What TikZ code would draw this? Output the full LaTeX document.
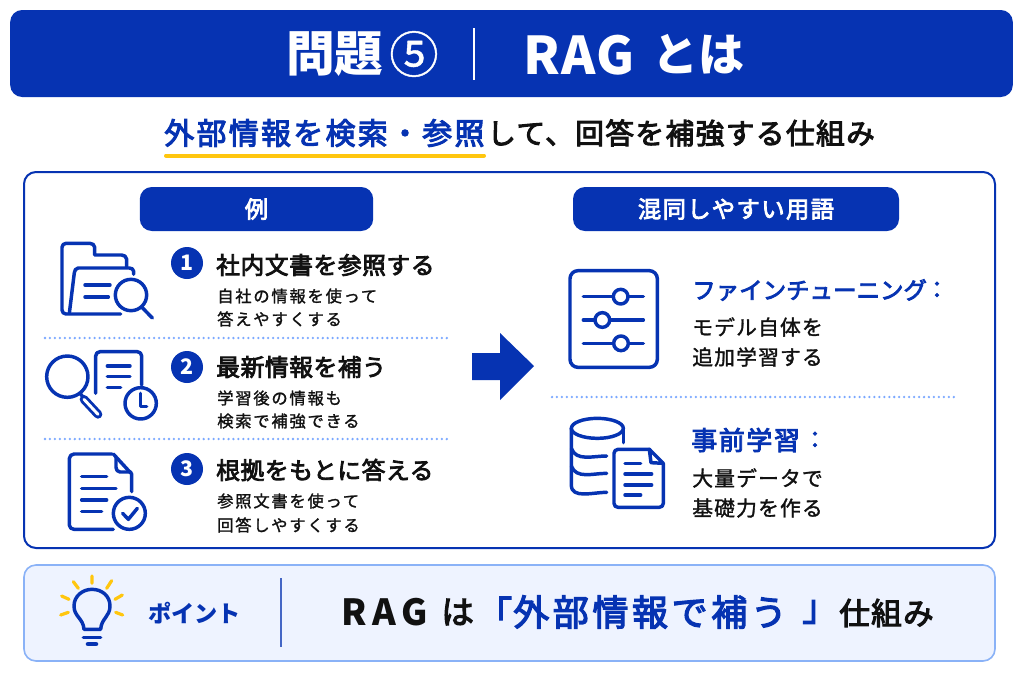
\documentclass[tikz,border=0pt]{standalone}
\usepackage{fontspec}
\setmainfont{Noto Sans CJK JP}
\newcommand{\fs}[1]{\fontsize{#1}{#1}\selectfont}
\newcommand{\med}[1]{\addfontfeature{FakeBold=3.4,LetterSpace=#1}}
\newcommand{\lght}[1]{\addfontfeature{FakeBold=1.4,LetterSpace=#1}}
\definecolor{navy}{HTML}{0633B2}
\definecolor{ink}{HTML}{111111}
\definecolor{dotblue}{HTML}{7AA8FF}
\definecolor{amber}{HTML}{FFC60E}
\definecolor{ptfill}{HTML}{EEF3FF}
\definecolor{ptline}{HTML}{8AB2F7}
\tikzset{
 icon/.style={draw=navy,line width=2.6pt,line cap=round,line join=round},
 ray/.style={draw=amber,line width=2.4pt,line cap=round},
 dotline/.style={draw=dotblue,line width=1.9pt,line cap=round,dash pattern=on 0pt off 3.72pt},
 pill/.style={draw=none,fill=navy,rounded corners=9pt},
 txt/.style={anchor=west,inner sep=0pt,text=ink},
 head/.style={txt,font=\fs{17.8}\med{2.5}},
 sub/.style={txt,font=\fs{12.2}\lght{11}},
 badge/.style={circle,fill=navy,text=white,inner sep=0pt,minimum size=24pt,font=\fs{16}\bfseries},
 kw/.style={txt,text=navy,font=\fs{17.6}\med{0}},
 kwb/.style={txt,text=navy,font=\fs{19.5}\med{6}},
 body/.style={txt,font=\fs{15.6}\lght{5.5}},
}
\begin{document}
\begin{tikzpicture}[x=0.75pt,y=-0.75pt]
\useasboundingbox (0,0) rectangle (1024,683);
\fill[white] (0,0) rectangle (1024,683);
% title
\node[pill,minimum width=752pt,minimum height=65.25pt,inner sep=0pt] (titlebar) at (511.5,53.5) {};
\node[txt,text=white,font=\fs{36.5}\bfseries] (t1) at (286,54) {問題};
\node[txt,text=white,font=\fs{37}\addfontfeature{FakeBold=0.8}] (t1b) at (389,54) {⑤};
\node[txt,text=white,font=\fs{39}\bfseries\addfontfeature{LetterSpace=3}] (t2) at (523,55) {RAG};
\node[txt,text=white,font=\fs{34.5}\bfseries] (t3) at (652,54) {とは};
\draw[white,line width=1pt] (474,28) -- (474,80);
% subtitle
\node[txt,text=navy,font=\fs{22.5}\med{7.5}] (s1) at (164,133) {外部情報を検索・参照};
\node[txt,font=\fs{21.5}\med{5}] (s2) at (487,133) {して、回答を補強する仕組み};
\draw[amber,line width=3pt,line cap=round] (166,155.5) -- (484,155.5);
% main box
\draw[navy,line width=1.5pt,fill=white,rounded corners=9pt] (24,172) rectangle (995,548);
\node[pill,minimum width=175pt,minimum height=33pt,inner sep=0pt,text=white,font=\fs{17.5}\med{3}] (ex) at (256.5,209) {例};
\node[pill,minimum width=244.5pt,minimum height=33pt,inner sep=0pt,text=white,font=\fs{17.5}\med{6}] (mix) at (736,209) {混同しやすい用語};
% left rows
\node[badge] (b1) at (187,263) {1};
\node[badge] (b2) at (187,367) {2};
\node[badge] (b3) at (187,469) {3};
\node[head] (h1) at (216,265) {社内文書を参照する};
\node[sub] (d1a) at (217,296) {自社の情報を使って};
\node[sub] (d1b) at (217,319) {答えやすくする};
\node[head] (h2) at (216,367) {最新情報を補う};
\node[sub] (d2a) at (217,398) {学習後の情報も};
\node[sub] (d2b) at (217,421) {検索で補強できる};
\node[head] (h3) at (216,470) {根拠をもとに答える};
\node[sub] (d3a) at (217,501) {参照文書を使って};
\node[sub] (d3b) at (217,525) {回答しやすくする};
\draw[dotline] (45,338) -- (447,338);
\draw[dotline] (45,439) -- (447,439);
\draw[dotline] (552,397) -- (955,397);
% arrow
\fill[navy] (472,353) -- (500,353) -- (500,333) -- (534,366) -- (500,400) -- (500,380) -- (472,380) -- cycle;
% right
\node[kw] (k1) at (692,290) {ファインチューニング};
\node[kw] (k1c) at (925,290) {：};
\node[body] (r1a) at (692,327) {モデル自体を};
\node[body] (r1b) at (692,357) {追加学習する};
\node[kwb] (k2) at (691,440) {事前学習};
\node[kw] (k2c) at (803,440) {：};
\node[body] (r2a) at (692,478) {大量データで};
\node[body] (r2b) at (692,508) {基礎力を作る};
% icons left
\begin{scope}[shift={(30,230)},scale=1/3]
 \draw[icon] (272,252) -- (108,252) to[out=180,in=-90] (96,240) -- (96,52) to[out=90,in=180] (108,40) -- (180,40) to[out=0,in=90] (194,52) -- (194,75) -- (275,75) to[out=0,in=90] (290,88) -- (290,112);
 \draw[icon] (118,250) -- (133,128) to[out=85,in=180] (145,114) -- (298,114) to[out=0,in=90] (311,124) -- (311,133);
 \draw[icon] (165,165) -- (240,165) (165,201) -- (235,201);
 \draw[icon] (303,195) circle (47);
 \draw[icon] (336,232) -- (367,264);
 % two
 \draw[icon] (112,440) circle (62);
 \draw[icon] (150,490) -- (160,502);
 \draw[navy,line width=6.5pt,line cap=round] (162,508) -- (204,553);
 \draw[white,line width=2.2pt,line cap=round] (162,508) -- (204,553);
 \draw[icon] (197,490) -- (197,378) to[out=90,in=180] (210,365) -- (322,365) to[out=0,in=90] (335,378) -- (335,465);
 \draw[icon] (232,408) -- (300,408) (232,440) -- (300,440) (232,473) -- (272,473);
 \draw[icon] (332,520) circle (47);
 \draw[icon] (332,490) -- (332,530) -- (350,530);
 % three
 \draw[icon] (245,672) -- (132,672) to[out=180,in=90] (118,686) -- (118,885) to[out=-90,in=180] (132,898) -- (250,898);
 \draw[icon] (305,785) -- (305,732) -- (250,672);
 \draw[icon] (258,682) -- (258,712) to[out=-90,in=180] (270,726) -- (303,726);
 \draw[icon] (155,740) -- (230,740) (155,775) -- (258,775) (155,810) -- (230,810) (155,845) -- (215,845);
 \draw[icon] (298,850) circle (48);
 \draw[icon] (278,850) -- (295,868) -- (322,835);
\end{scope}
% icons right
\begin{scope}[shift={(550,250)},scale=1/3]
 \draw[icon,rounded corners=6pt] (60,62) rectangle (322,352);
 \draw[icon] (100,140) -- (280,140) (100,210) -- (280,210) (100,280) -- (280,280);
 \draw[icon,fill=white] (212,140) circle (22);
 \draw[icon,fill=white] (157,210) circle (22);
 \draw[icon,fill=white] (213,280) circle (22);
 \draw[icon] (142,535) ellipse (78 and 30);
 \draw[icon] (64,535) -- (64,705) to[out=-90,in=180] (170,727);
 \draw[icon] (220,535) -- (220,578);
 \draw[icon] (64,595) to[out=-70,in=180] (170,618);
 \draw[icon] (64,648) to[out=-70,in=180] (170,670);
 \draw[icon,rounded corners=3pt] (300,598) -- (192,598) -- (192,772) -- (340,772) -- (340,640);
 \draw[icon] (298,598) -- (340,640) -- (303,638) -- cycle;
 \draw[icon] (225,640) -- (272,640) (225,672) -- (305,672) (225,705) -- (305,705) (225,735) -- (272,735);
\end{scope}
% point box
\draw[ptline,line width=1.2pt,fill=ptfill,rounded corners=9pt] (24,565) rectangle (995,661);
\draw[navy!75,line width=1pt] (281,578) -- (281,647);
\begin{scope}[shift={(30,560)},scale=1/3]
 \draw[ray] (186,48) -- (186,70) (130,65) -- (145,85) (245,62) -- (230,85) (95,108) -- (117,118) (277,105) -- (255,118) (92,165) -- (115,157) (278,165) -- (257,157);
 \draw[icon] (162,208) .. controls (160,175) and (132,170) .. (132,138) .. controls (132,108) and (158,88) .. (186,88) .. controls (216,88) and (240,108) .. (240,138) .. controls (240,170) and (214,175) .. (212,208) -- cycle;
 \draw[icon] (160,232) -- (212,232);
 \draw[icon,line width=3.4pt] (174,252) -- (198,252);
\end{scope}
\node[txt,text=navy,font=\fs{17.4}\bfseries] (pt) at (148,613) {ポイント};
\node[txt,font=\fs{27}\bfseries\addfontfeature{LetterSpace=16}] (p1) at (341,612) {RAG};
\node[txt,font=\fs{24.5}\med{0}] (p1b) at (441,612) {は};
\node[txt,text=navy,font=\fs{27}\med{0}] (p2a) at (476,612) {「};
\node[txt,text=navy,font=\fs{27}\med{10}] (p2) at (513,612) {外部情報で補う};
\node[txt,text=navy,font=\fs{27}\med{0}] (p2b) at (802,612) {」};
\node[txt,font=\fs{23}\med{4}] (p3) at (839,613) {仕組み};
\end{tikzpicture}
\end{document}
